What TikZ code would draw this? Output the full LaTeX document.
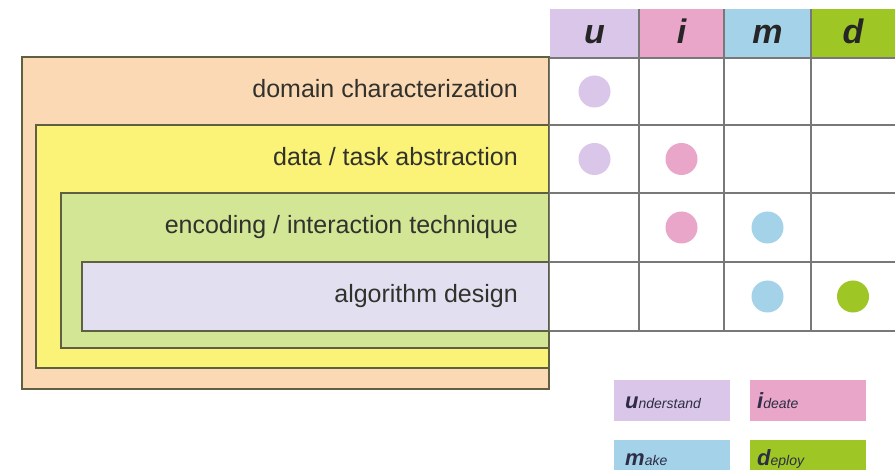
\documentclass[tikz,border=0pt]{standalone}
\usepackage{fontspec}
\setmainfont{Liberation Sans}
\definecolor{orfill}{RGB}{251,217,180}
\definecolor{yefill}{RGB}{250,243,120}
\definecolor{grfill}{RGB}{210,230,150}
\definecolor{pufill}{RGB}{226,224,240}
\definecolor{boxline}{RGB}{95,95,65}
\definecolor{gridcol}{RGB}{120,120,120}
\definecolor{ucol}{RGB}{218,198,232}
\definecolor{icol}{RGB}{233,166,200}
\definecolor{mcol}{RGB}{164,210,232}
\definecolor{dcol}{RGB}{158,198,36}
\definecolor{txt}{RGB}{50,50,45}
\definecolor{legtxt}{RGB}{45,45,70}
\begin{document}
\begin{tikzpicture}[x=1pt,y=-1pt,
  layer/.style={draw=boxline, line width=1.1pt, anchor=north west, inner sep=0pt, outer sep=0pt},
  lbl/.style={anchor=base east, inner sep=0pt, text=txt, font=\fontsize{25}{29}\selectfont},
  hdr/.style={anchor=north west, inner sep=0pt, outer sep=0pt, minimum height=49},
  hletter/.style={anchor=base, inner sep=0pt, text=black!85, font=\fontsize{34}{36}\selectfont\bfseries\itshape},
  gridl/.style={draw=gridcol, line width=1.1pt},
  dot/.style={circle, minimum size=32, inner sep=0pt},
  legbox/.style={anchor=north west, inner sep=0pt, minimum width=116, minimum height=41},
  legtext/.style={anchor=base west, inner sep=0pt, text=legtxt}
]
\useasboundingbox (0,0) rectangle (895,470);
\fill[white] (0,0) rectangle (895,470);

% nested layers
\node[layer, fill=orfill, minimum width=527, minimum height=332] (dom) at (22,57) {};
\node[layer, fill=yefill, minimum width=513, minimum height=243] (abs) at (36,125) {};
\node[layer, fill=grfill, minimum width=488, minimum height=155] (enc) at (61,193) {};
\node[layer, fill=pufill, minimum width=467, minimum height=69] (alg) at (82,262) {};

\node[lbl] (tdom) at (518,98) {domain characterization};
\node[lbl] (tabs) at (518,166) {data / task abstraction};
\node[lbl] (tenc) at (518,234) {encoding / interaction technique};
\node[lbl] (talg) at (518,303) {algorithm design};

% header
\node[hdr, fill=ucol, minimum width=89] (hu) at (550,9) {};
\node[hdr, fill=icol, minimum width=85] (hi) at (639,9) {};
\node[hdr, fill=mcol, minimum width=87] (hm) at (724,9) {};
\node[hdr, fill=dcol, minimum width=84] (hd) at (811,9) {};
\node[hletter] (lu) at (594.5,44) {u};
\node[hletter] (li) at (681.5,44) {i};
\node[hletter] (lm) at (767.5,44) {m};
\node[hletter] (ld) at (853,44) {d};

% grid
\foreach \yy in {58,125,193,262,331} { \draw[gridl] (549.5,\yy) -- (895,\yy); }
\draw[gridl] (549.5,58) -- (549.5,331);
\foreach \xx in {639,724,811} { \draw[gridl] (\xx,9) -- (\xx,331); }

% dots
\node[dot, fill=ucol] (d11) at (594.5,91.5) {};
\node[dot, fill=ucol] (d21) at (594.5,159) {};
\node[dot, fill=icol] (d22) at (681.5,159) {};
\node[dot, fill=icol] (d32) at (681.5,227.5) {};
\node[dot, fill=mcol] (d33) at (767.5,227.5) {};
\node[dot, fill=mcol] (d43) at (767.5,296.5) {};
\node[dot, fill=dcol] (d44) at (853,296.5) {};

% legend
\node[legbox, fill=ucol] (bu) at (614,380) {};
\node[legbox, fill=icol] (bi) at (750,380) {};
\node[legbox, fill=mcol] (bm) at (614,440) {};
\node[legbox, fill=dcol] (bd) at (750,440) {};
\node[legtext] (tu) at (625,409) {{\fontsize{22}{22}\selectfont\bfseries\itshape u}{\fontsize{14}{14}\selectfont\itshape nderstand}};
\node[legtext] (ti) at (757,409) {{\fontsize{22}{22}\selectfont\bfseries\itshape i}{\fontsize{14}{14}\selectfont\itshape deate}};
\node[legtext] (tm) at (625,465) {{\fontsize{22}{22}\selectfont\bfseries\itshape m}{\fontsize{14}{14}\selectfont\itshape ake}};
\node[legtext] (td) at (757,465) {{\fontsize{22}{22}\selectfont\bfseries\itshape d}{\fontsize{14}{14}\selectfont\itshape eploy}};
\end{tikzpicture}
\end{document}
